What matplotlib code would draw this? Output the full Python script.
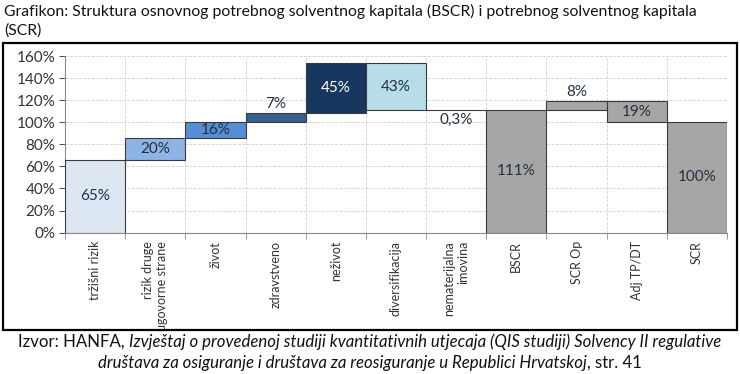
import numpy as np
import matplotlib.pyplot as plt
from matplotlib.patches import Rectangle
from matplotlib.ticker import FuncFormatter, MultipleLocator

plt.rcParams['font.family'] = ['Lato', 'DejaVu Sans']

# --- data ---
categories = ['tržišni rizik', 'rizik druge\nugovorne strane', 'život', 'zdravstveno',
              'neživot', 'diversifikacija', 'nematerijalna\nimovina', 'BSCR',
              'SCR Op', 'Adj TP/DT', 'SCR']
bar_bottom = [0, 65.5, 85.5, 100.5, 108.4, 111, 110.7, 0, 111, 100, 0]
bar_top = [65.5, 85.5, 100.5, 108.4, 153.4, 153.4, 111, 111, 119.3, 119.3, 100]
step_up = [True, True, True, True, True, False, False, True, True, False, True]
value_labels = ['65%', '20%', '16%', '7%', '45%', '43%', '0,3%', '111%', '8%', '19%', '100%']
bar_colors = ['#dce6f2', '#8eb4e3', '#558ed5', '#376092', '#17375e', '#b7dee8',
              '#ffffff', '#a6a6a6', '#a6a6a6', '#a6a6a6', '#a6a6a6']

fig = plt.figure(figsize=(7.4, 3.74), dpi=100)
ax = fig.add_axes([0.0878, 0.378, 0.8946, 0.472])

x = np.arange(len(categories))
heights = np.array(bar_top) - np.array(bar_bottom)
ax.bar(x, heights, bottom=bar_bottom, width=1.0, color=bar_colors,
       edgecolor='#3a3a3a', linewidth=0.8, zorder=3)

text_col = '#243040'
for i, lab in enumerate(value_labels):
    h = heights[i]
    if h < 10:
        if step_up[i]:
            y, va = bar_top[i] + 1.5, 'bottom'
        else:
            y, va = bar_bottom[i] - 2, 'top'
    else:
        y, va = (bar_bottom[i] + bar_top[i]) / 2, 'center'
    col = 'white' if bar_colors[i] == '#17375e' else text_col
    ax.text(x[i], y, lab, ha='center', va=va, fontsize=11, color=col, zorder=4)

ax.set_xlim(-0.5, len(categories) - 0.5)
ax.set_ylim(0, 160)
ax.yaxis.set_major_locator(MultipleLocator(20))
ax.yaxis.set_major_formatter(FuncFormatter(lambda v, p: f'{v:.0f}%'))
ax.tick_params(axis='y', labelsize=11, colors='#333333', length=4, width=0.6, pad=3)

# category labels at centres, ticks at boundaries
ax.set_xticks(np.arange(len(categories) + 1) - 0.5)
ax.set_xticklabels([])
ax.set_xticks(x, minor=True)
ax.set_xticklabels(categories, minor=True, rotation=90, fontsize=9, va='top',
                   ha='center', multialignment='right', color='#333333')
ax.tick_params(axis='x', which='minor', length=0, pad=6)
ax.tick_params(axis='x', which='major', length=4, width=0.6, color='#888888')

ax.grid(True, which='major', color='#d0d0d0', linestyle='--', linewidth=0.6, zorder=0)
ax.set_axisbelow(True)
for s in ['top', 'right']:
    ax.spines[s].set_visible(False)
for s in ['left', 'bottom']:
    ax.spines[s].set_color('#888888')
    ax.spines[s].set_linewidth(0.8)

# outer frame
fig.patches.append(Rectangle((3 / 740, 44 / 374), 734 / 740, 287 / 374,
                             transform=fig.transFigure, fill=False,
                             edgecolor='black', linewidth=1.6))

fig.text(4 / 740, 1 - 11 / 374, 'Grafikon: Struktura osnovnog potrebnog solventnog kapitala (BSCR) i potrebnog solventnog kapitala',
         fontsize=11.3, va='center', ha='left', color='#111111')
fig.text(4 / 740, 1 - 31 / 374, '(SCR)', fontsize=11.3, va='center', ha='left', color='#111111')

# caption with mixed styles
renderer = fig.canvas.get_renderer()


def mixed_line(parts, y_px):
    texts = []
    for s, style in parts:
        t = fig.text(0, 1 - y_px / 374, s, fontsize=12.1, style=style,
                     va='center', ha='left', color='#111111')
        texts.append(t)
    widths = [t.get_window_extent(renderer).width for t in texts]
    total = sum(widths)
    xpos = (740 - total) / 2
    for t, w in zip(texts, widths):
        t.set_x(xpos / 740)
        xpos += w


mixed_line([('Izvor: HANFA, ', 'normal'),
            ('Izvještaj o provedenoj studiji kvantitativnih utjecaja (QIS studiji) Solvency II regulative', 'italic')], 342)
mixed_line([('društava za osiguranje i društava za reosiguranje u Republici Hrvatskoj', 'italic'),
            (', str. 41', 'normal')], 363)

fig.savefig('out.png', dpi=100)
